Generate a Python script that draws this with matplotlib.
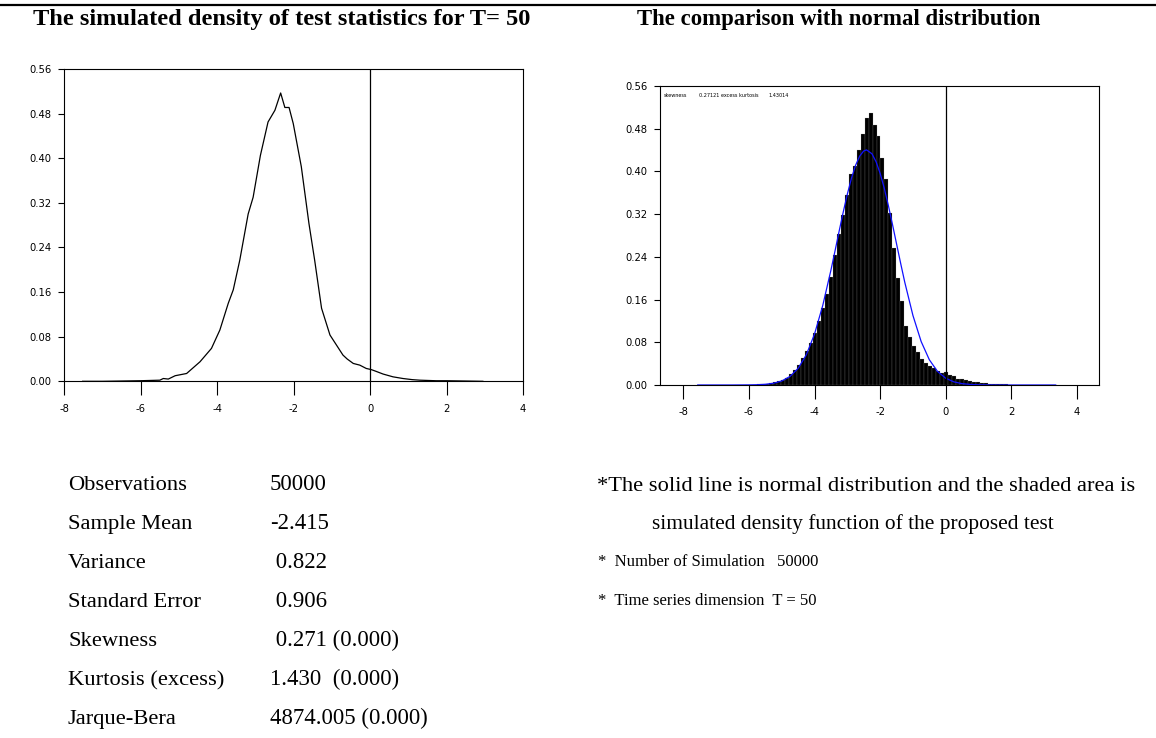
import matplotlib
matplotlib.use("Agg")
import matplotlib.pyplot as plt
from matplotlib import font_manager as fm
from matplotlib.lines import Line2D
import numpy as np

# ---- data ----
# left panel: simulated density (line)
dens_x = [-7.52, -7.0, -6.5, -6.02, -5.5, -5.41, -5.28, -5.1, -4.8, -4.45, -4.15, -3.93,
          -3.71, -3.58, -3.41, -3.19, -3.06, -2.87, -2.67, -2.49, -2.34, -2.23, -2.12,
          -2.01, -1.8, -1.6, -1.45, -1.27, -1.05, -0.71, -0.6, -0.44, -0.27, -0.1, 0.03,
          0.15, 0.34, 0.6, 0.86, 1.1, 1.3, 1.73, 2.0, 2.5, 2.95]
dens_y = [0.0, 0.0, 0.0005, 0.001, 0.002, 0.005, 0.004, 0.01, 0.014, 0.035, 0.059, 0.092,
          0.14, 0.164, 0.217, 0.30, 0.33, 0.405, 0.465, 0.486, 0.517, 0.491, 0.491,
          0.462, 0.385, 0.283, 0.217, 0.131, 0.083, 0.047, 0.040, 0.032, 0.029, 0.023, 0.021,
          0.018, 0.013, 0.008, 0.005, 0.003, 0.002, 0.001, 0.001, 0.0005, 0.0]

# right panel: histogram (90 bins from -7.56, width 0.1211)
hist_start = -7.56
hist_width = 0.1211
hist_heights = [0, 0, 0, 0, 0, 0, 0, 0, 0, 0.0001,
                0.0001, 0.0002, 0.0002, 0.0003, 0.0005, 0.001, 0.0015,
                0.0025, 0.0035, 0.005, 0.007, 0.010, 0.014, 0.020, 0.028, 0.038, 0.050, 0.063, 0.078, 0.097,
                0.120, 0.145, 0.170, 0.203, 0.243, 0.283, 0.318, 0.355, 0.395, 0.410, 0.440, 0.470,
                0.501, 0.509, 0.487, 0.466, 0.425, 0.385, 0.322, 0.257, 0.201, 0.157, 0.111, 0.089, 0.073, 0.061,
                0.048, 0.041, 0.036, 0.031, 0.026, 0.022, 0.025,
                0.019, 0.016, 0.012, 0.011, 0.009, 0.008, 0.006, 0.005, 0.004, 0.003,
                0.002, 0.002, 0.0015, 0.001, 0.001, 0.0008, 0.0006, 0.0005, 0.0004, 0.0003,
                0.0003, 0.0002, 0.0002, 0.0001, 0.0001, 0.0001, 0.0001]

# normal curve (blue)
norm_x = [-7.56, -7.0, -6.5, -6.0, -5.75, -5.5, -5.25, -5.0, -4.75, -4.5, -4.25, -4.0, -3.75,
          -3.5, -3.375, -3.25, -3.125, -3.0, -2.875, -2.75, -2.625, -2.5, -2.415, -2.25, -2.125,
          -2.0, -1.875, -1.75, -1.625, -1.5, -1.375, -1.25, -1.0, -0.75, -0.5, -0.25, 0.0,
          0.25, 0.5, 0.75, 1.0, 1.5, 2.0, 3.35]
norm_y = [0.0, 0.0, 0.0, 0.0002, 0.0005, 0.0013, 0.0033, 0.0075, 0.0159, 0.0312, 0.0566, 0.0954, 0.1487,
          0.2150, 0.2511, 0.2880, 0.3239, 0.3574, 0.3871, 0.4112, 0.4286, 0.4384, 0.4403, 0.4331, 0.4183,
          0.3964, 0.3687, 0.3363, 0.3010, 0.2644, 0.2279, 0.1926, 0.1301, 0.0814, 0.0472, 0.0253, 0.0126,
          0.0058, 0.0025, 0.0010, 0.0004, 0.0, 0.0, 0.0]

stat_labels = ["Observations", "Sample Mean", "Variance", "Standard Error",
               "Skewness", "Kurtosis (excess)", "Jarque-Bera"]
stat_values = ["50000", "-2.415", " 0.822", " 0.906", " 0.271 (0.000)",
               "1.430  (0.000)", "4874.005 (0.000)"]

y_ticks = [0.00, 0.08, 0.16, 0.24, 0.32, 0.40, 0.48, 0.56]
x_ticks = [-8, -6, -4, -2, 0, 2, 4]

# ---- fonts ----
plt.rcParams['font.family'] = ['Liberation Serif', 'DejaVu Serif']
plt.rcParams['axes.unicode_minus'] = False

# look for a narrow sans face for the tick labels (Arial Narrow look)
narrow_file = None
for f in fm.fontManager.ttflist:
    n = f.name.lower()
    if ('narrow' in n or 'condensed' in n or f.stretch in ('condensed', 'semi-condensed')) \
            and f.weight in (400, 'normal', 'regular') and f.style == 'normal':
        narrow_file = f.fname
        break
if narrow_file:
    tick_fp = fm.FontProperties(fname=narrow_file, size=8)
    small_fp = fm.FontProperties(fname=narrow_file, size=4.0)
else:
    tick_fp = fm.FontProperties(family='Liberation Sans', size=7.3)
    small_fp = fm.FontProperties(family='Liberation Sans', size=3.3)

W, H = 1156, 738
fig = plt.figure(figsize=(W / 100, H / 100), dpi=100)


def px_axes(left, top, right, bottom):
    return fig.add_axes([left / W, 1 - bottom / H, (right - left) / W, (bottom - top) / H])


def style_axis(ax):
    ax.set_ylim(0, 0.56)
    ax.set_yticks(y_ticks)
    ax.set_yticklabels([f"{v:.2f}" for v in y_ticks], fontproperties=tick_fp)
    ax.set_xticks(x_ticks)
    ax.set_xticklabels([str(v) for v in x_ticks], fontproperties=tick_fp)
    ax.tick_params(axis='y', direction='out', length=4, width=0.8, pad=5)
    ax.tick_params(axis='x', direction='out', length=10, width=0.8, pad=6)
    for s in ax.spines.values():
        s.set_linewidth(0.8)
    ax.axvline(0, color='black', lw=0.9)


# left panel
ax1 = px_axes(64.3, 69, 523, 381.3)
ax1.plot(dens_x, dens_y, color='black', lw=0.9)
ax1.set_xlim(-8, 4)
style_axis(ax1)

# right panel
ax2 = px_axes(660.3, 86, 1099, 385)
centers = hist_start + hist_width * (np.arange(len(hist_heights)) + 0.5)
ax2.bar(centers, hist_heights, width=hist_width, color='black', edgecolor='#9a9a9a', linewidth=0.15)
ax2.plot(norm_x, norm_y, color='#1010ff', lw=0.9)
ax2.set_xlim(-8.70, 4.67)
style_axis(ax2)
ax2.text(0.009, 0.977, "skewness", transform=ax2.transAxes, fontproperties=small_fp, va='top')
ax2.text(0.088, 0.977, "0.27121 excess kurtosis", transform=ax2.transAxes, fontproperties=small_fp, va='top')
ax2.text(0.2455, 0.977, "1.43014", transform=ax2.transAxes, fontproperties=small_fp, va='top')

# top rule and titles
fig.add_artist(Line2D([0, 1], [1 - 4.5 / H, 1 - 4.5 / H], color='black', lw=1.6))
fig.text(281.5 / W, 1 - 25 / H, "The simulated density of test statistics for T= 50",
         ha='center', va='baseline', fontsize=17.6, fontweight='bold')
fig.text(838.5 / W, 1 - 25 / H, "The comparison with normal distribution",
         ha='center', va='baseline', fontsize=16.4, fontweight='bold')

# statistics table
for i, (lab, val) in enumerate(zip(stat_labels, stat_values)):
    yb = 1 - (490.5 + 38.9 * i) / H
    fig.text(68 / W, yb, lab, ha='left', va='baseline', fontsize=16.2)
    fig.text(270 / W, yb, val, ha='left', va='baseline', fontsize=16.4)

# notes on the right
fig.text(866.5 / W, 1 - 491 / H, "*The solid line is normal distribution and the shaded area is",
         ha='center', va='baseline', fontsize=16.2)
fig.text(853 / W, 1 - 529.5 / H, "simulated density function of the proposed test",
         ha='center', va='baseline', fontsize=15.4)
fig.text(598 / W, 1 - 566 / H, "*  Number of Simulation   50000",
         ha='left', va='baseline', fontsize=12)
fig.text(598 / W, 1 - 605 / H, "*  Time series dimension  T = 50",
         ha='left', va='baseline', fontsize=12)

fig.savefig("out.png", dpi=100)
